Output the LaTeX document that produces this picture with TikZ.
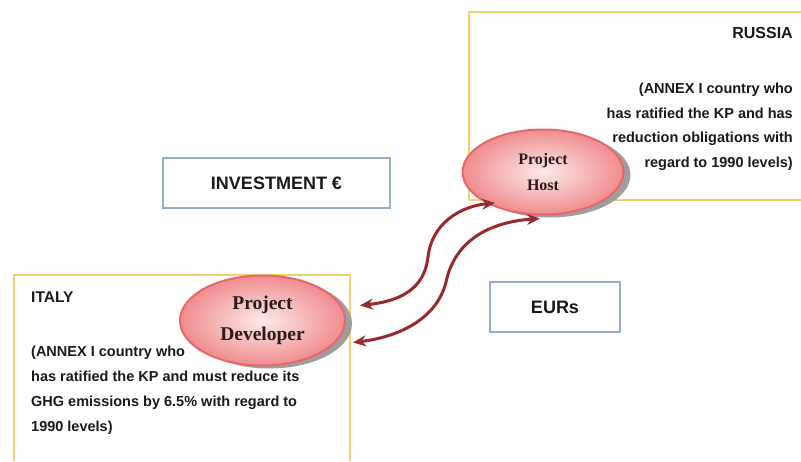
\documentclass[tikz,border=0pt]{standalone}
\usepackage{fontspec}
\setmainfont{Liberation Sans}
\newfontfamily\ellfont{Liberation Serif}
\usetikzlibrary{arrows.meta,shapes.geometric,shadows,calc}
\definecolor{goldbd}{HTML}{F0D070}
\definecolor{bluebd}{HTML}{95AECB}
\definecolor{arrred}{HTML}{962A2E}
\definecolor{ellbd}{HTML}{E5686C}
\definecolor{ellout}{HTML}{F08C8E}
\definecolor{ellin}{HTML}{FDEAEA}
\definecolor{txt}{HTML}{1A1A1A}
\definecolor{elltxt}{HTML}{2A1A1A}
\begin{document}
\begin{tikzpicture}[x=1pt,y=-1pt,
  country/.style={draw=goldbd,line width=1.6pt},
  labelbox/.style={rectangle,draw=bluebd,line width=1.5pt,fill=white,text=txt,
    font=\fontsize{18}{20}\selectfont\bfseries,inner sep=0},
  ell/.style={ellipse,draw=ellbd,line width=2pt,inner color=ellin,outer color=ellout,
    inner sep=0,align=center,text=elltxt,
    drop shadow={shadow xshift=7pt,shadow yshift=-3pt,fill=black!38,opacity=1}},
  rtxt/.style={anchor=base east,inner sep=0,text=txt,font=\fontsize{14.5}{17}\selectfont\bfseries},
  ltxt/.style={anchor=base west,inner sep=0,text=txt,font=\fontsize{14.5}{17}\selectfont\bfseries},
  ttl/.style={inner sep=0,text=txt,font=\fontsize{16}{18}\selectfont\bfseries},
  arr/.style={draw=arrred,line width=3pt,{Stealth[length=13pt,width=11pt]}-{Stealth[length=13pt,width=11pt]}}
]
\useasboundingbox (0,0) rectangle (801,461);
\fill[white] (0,0) rectangle (801,461);

% country boxes
\draw[country] (801,12) -- (469,12) -- (469,200) -- (801,200);
\draw[country] (14,461) -- (14,275) -- (350,275) -- (350,461);

% Russia text
\node[ttl,anchor=base east] (rus) at (793,38) {RUSSIA};
\node[rtxt] (r1) at (793,93) {(ANNEX I country who};
\node[rtxt] (r2) at (793,118) {has ratified the KP and has};
\node[rtxt] (r3) at (793,142.5) {reduction obligations with};
\node[rtxt] (r4) at (793,167) {regard to 1990 levels)};

% Italy text
\node[ttl,anchor=base west,font=\fontsize{15.5}{18}\selectfont\bfseries] (ita) at (31,302) {ITALY};
\node[ltxt] (i1) at (31,356) {(ANNEX I country who};
\node[ltxt] (i2) at (31,381) {has ratified the KP and must reduce its};
\node[ltxt] (i3) at (31,406) {GHG emissions by 6.5\% with regard to};
\node[ltxt] (i4) at (31,431) {1990 levels)};

% label boxes
\node[labelbox,minimum width=227pt,minimum height=50pt] (inv) at (276.5,183) {INVESTMENT €};
\node[labelbox,minimum width=130pt,minimum height=50pt] (eur) at (555,307) {EURs};

% ellipses
\node[ell,minimum width=161pt,minimum height=85pt,
  font=\ellfont\bfseries\fontsize{16}{26}\selectfont] (host) at (543,172) {Project\\Host};
\node[ell,minimum width=165pt,minimum height=90pt,
  font=\ellfont\bfseries\fontsize{19.5}{31}\selectfont] (dev) at (262.5,320.5) {Project\\Developer};

% arrows
\draw[arr] ($(dev.east)+(14,-15)$) .. controls (410,300) and (425,282) .. (428,257)
   .. controls (432,222) and (462,206) .. ($(host.center)+(-48,31)$);
\draw[arr] ($(dev.east)+(7,22)$) .. controls (405,336) and (438,315) .. (446,282)
   .. controls (455,240) and (490,222) .. ($(host.south)+(-3,3)$);
\end{tikzpicture}
\end{document}
